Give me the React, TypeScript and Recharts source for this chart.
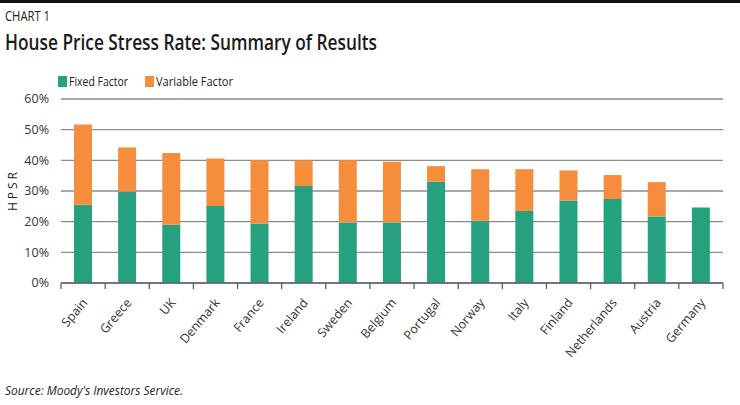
import React from 'react';
import { BarChart, Bar, XAxis, YAxis, CartesianGrid } from 'recharts';

const categories = ['Spain', 'Greece', 'UK', 'Denmark', 'France', 'Ireland', 'Sweden', 'Belgium', 'Portugal', 'Norway', 'Italy', 'Finland', 'Netherlands', 'Austria', 'Germany'];
const fixedFactor = [25.5, 29.8, 19.0, 25.1, 19.4, 31.6, 19.7, 19.7, 33.0, 20.3, 23.5, 26.9, 27.4, 21.7, 24.6];
const variableFactor = [26.2, 14.4, 23.4, 15.5, 20.6, 8.4, 20.3, 19.8, 5.1, 16.8, 13.6, 9.8, 7.8, 11.2, 0];
const yTicks = [0, 10, 20, 30, 40, 50, 60];

const data = categories.map((name, i) => ({ name, fixed: fixedFactor[i], variable: variableFactor[i] }));

const GREEN = '#26A17F';
const ORANGE = '#F68D3C';
const FONT = '"Open Sans", "Liberation Sans", sans-serif';

const CategoryTick = (props: any) => {
  const { x, y, payload, index, visibleTicksCount } = props;
  const half = payload && typeof payload.offset === 'number' && payload.offset > 0 ? payload.offset : 22;
  const ax = x + 5;
  const ay = y + 20;
  const isLast = index === (visibleTicksCount ?? categories.length) - 1;
  return (
    <g>
      <line x1={x - half} x2={x - half} y1={y} y2={y + 6} stroke="#555" strokeWidth={1.2} />
      {isLast && <line x1={x + half} x2={x + half} y1={y} y2={y + 6} stroke="#555" strokeWidth={1.2} />}
      <text x={ax} y={ay} textAnchor="end" fontSize={12.5} fontFamily={FONT} fill="#333" transform={`rotate(-50, ${ax}, ${ay})`}>
        {payload.value}
      </text>
    </g>
  );
};

export default function App() {
  return (
    <div style={{ position: 'absolute', left: 0, top: 0, width: 740, height: 405, background: '#fff' }}>
      <BarChart
        width={740}
        height={405}
        data={data}
        margin={{ top: 99, right: 17, left: 0, bottom: 21 }}
        style={{ position: 'absolute', left: 0, top: 0 }}
      >
        <CartesianGrid vertical={false} stroke="#8c8c8c" strokeWidth={1.4} />
        <XAxis
          dataKey="name"
          interval={0}
          height={101}
          axisLine={{ stroke: '#666', strokeWidth: 1.6 }}
          tickLine={false}
          tickSize={0}
          tickMargin={0}
          tick={<CategoryTick />}
        />
        <YAxis
          width={61}
          domain={[0, 60]}
          ticks={yTicks}
          tickFormatter={(v: number) => `${v}%`}
          axisLine={false}
          tickLine={false}
          tickSize={6}
          tickMargin={6}
          tick={{ fontSize: 12.5, fontFamily: FONT, fill: '#333' }}
        />
        <Bar dataKey="fixed" stackId="a" fill={GREEN} barSize={18} isAnimationActive={false} />
        <Bar dataKey="variable" stackId="a" fill={ORANGE} barSize={18} isAnimationActive={false} />
      </BarChart>
      <svg width={740} height={405} style={{ position: 'absolute', left: 0, top: 0, pointerEvents: 'none' }}>
        <rect x={0} y={0} width={740} height={3} fill="#111" />
        <text x={5} y={21} fontSize={15} fontFamily={FONT} fill="#222" textLength={45} lengthAdjust="spacingAndGlyphs">CHART 1</text>
        <text x={5} y={50} fontSize={21} fontWeight={600} fontFamily={FONT} fill="#1a1a1a" textLength={372} lengthAdjust="spacingAndGlyphs">House Price Stress Rate: Summary of Results</text>
        <rect x={58} y={76} width={9} height={11} fill={GREEN} />
        <text x={69} y={86} fontSize={13} fontFamily={FONT} fill="#222" textLength={59} lengthAdjust="spacingAndGlyphs">Fixed Factor</text>
        <rect x={145} y={76} width={9} height={11} fill={ORANGE} />
        <text x={156} y={86} fontSize={13} fontFamily={FONT} fill="#222" textLength={77} lengthAdjust="spacingAndGlyphs">Variable Factor</text>
        <text x={17} y={190} fontSize={12} fontFamily={FONT} fill="#222" textAnchor="middle" letterSpacing={3} transform="rotate(-90, 17, 190)">HPSR</text>
        <text x={5} y={395} fontSize={13} fontStyle="italic" fontFamily={FONT} fill="#222" textLength={178} lengthAdjust="spacingAndGlyphs">Source: Moody's Investors Service.</text>
      </svg>
    </div>
  );
}
